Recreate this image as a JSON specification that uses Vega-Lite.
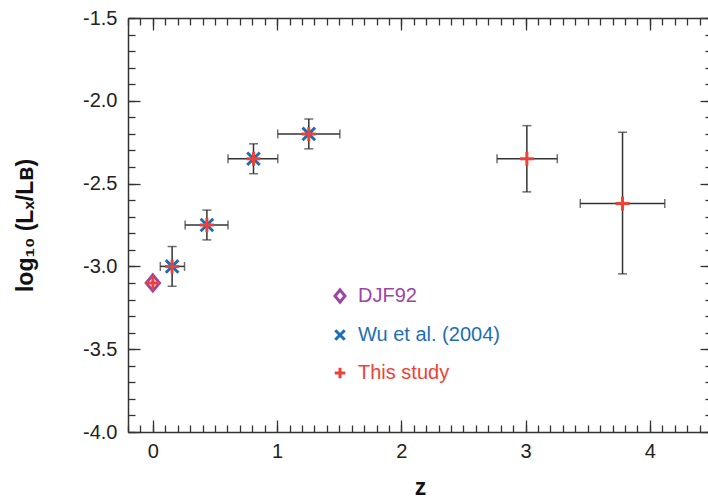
{
  "$schema": "https://vega.github.io/schema/vega-lite/v6.json",
  "width": 584,
  "height": 414,
  "autosize": "none",
  "padding": {"left": 128, "top": 18, "right": 0, "bottom": 72},
  "config": {
    "view": {"stroke": null},
    "locale": {"number": {"decimal": ".", "thousands": ",", "grouping": [3], "currency": ["$", ""], "minus": "-"}},
    "axis": {
      "labelFont": "Liberation Sans",
      "titleFont": "Liberation Sans",
      "labelFontSize": 20,
      "labelColor": "#222222",
      "domainColor": "#333333",
      "domainWidth": 1.5,
      "tickColor": "#333333",
      "tickWidth": 1.3,
      "grid": false,
      "titleColor": "#111111"
    },
    "legend": {"labelFont": "Liberation Sans"}
  },
  "datasets": {
    "err": [
      {"z": 0.155, "zlo": 0.06, "zhi": 0.255, "y": -3.0, "ylo": -3.12, "yhi": -2.88},
      {"z": 0.435, "zlo": 0.26, "zhi": 0.605, "y": -2.75, "ylo": -2.84, "yhi": -2.66},
      {"z": 0.81, "zlo": 0.605, "zhi": 1.005, "y": -2.35, "ylo": -2.44, "yhi": -2.26},
      {"z": 1.255, "zlo": 1.005, "zhi": 1.505, "y": -2.2, "ylo": -2.29, "yhi": -2.11},
      {"z": 3.01, "zlo": 2.77, "zhi": 3.255, "y": -2.35, "ylo": -2.55, "yhi": -2.15},
      {"z": 3.78, "zlo": 3.44, "zhi": 4.12, "y": -2.62, "ylo": -3.045, "yhi": -2.19}
    ],
    "pts": [
      {"series": "DJF92", "z": 0.0, "y": -3.1},
      {"series": "Wu et al. (2004)", "z": 0.155, "y": -3.0},
      {"series": "Wu et al. (2004)", "z": 0.435, "y": -2.75},
      {"series": "Wu et al. (2004)", "z": 0.81, "y": -2.35},
      {"series": "Wu et al. (2004)", "z": 1.255, "y": -2.2},
      {"series": "This study", "z": 0.0, "y": -3.1},
      {"series": "This study", "z": 0.155, "y": -3.0},
      {"series": "This study", "z": 0.435, "y": -2.75},
      {"series": "This study", "z": 0.81, "y": -2.35},
      {"series": "This study", "z": 1.255, "y": -2.2},
      {"series": "This study", "z": 3.01, "y": -2.35},
      {"series": "This study", "z": 3.78, "y": -2.62}
    ]
  },
  "resolve": {"axis": {"x": "independent", "y": "independent"}},
  "layer": [
    {
      "data": {"name": "err"},
      "mark": {"type": "rule", "color": "#333333", "strokeWidth": 1.5},
      "encoding": {
        "x": {"field": "zlo", "type": "quantitative", "scale": {"domain": [-0.2, 4.5], "nice": false, "zero": false},
          "axis": {"orient": "bottom", "values": [0, 1, 2, 3, 4], "format": "d", "tickSize": -12, "labelPadding": 21, "title": "z", "titleFontSize": 23, "titleFontWeight": "bold", "titlePadding": 15}},
        "x2": {"field": "zhi"},
        "y": {"field": "y", "type": "quantitative", "scale": {"domain": [-4, -1.5], "nice": false, "zero": false},
          "axis": {"orient": "left", "values": [-4, -3.5, -3, -2.5, -2, -1.5], "format": ".1f", "tickSize": -12, "labelPadding": 23, "title": "log₁₀ (Lₓ/Lʙ)", "titleFontSize": 23, "titleFontWeight": "bold", "titlePadding": 45}},
        "y2": {"field": "y"}
      }
    },
    {
      "data": {"name": "err"},
      "mark": {"type": "rule", "color": "#333333", "strokeWidth": 1.5},
      "encoding": {
        "x": {"field": "z", "type": "quantitative", "scale": {"domain": [-0.2, 4.5], "nice": false, "zero": false},
          "axis": {"orient": "bottom", "values": [-0.2, -0.1, 0, 0.1, 0.2, 0.3, 0.4, 0.5, 0.6, 0.7, 0.8, 0.9, 1, 1.1, 1.2, 1.3, 1.4, 1.5, 1.6, 1.7, 1.8, 1.9, 2, 2.1, 2.2, 2.3, 2.4, 2.5, 2.6, 2.7, 2.8, 2.9, 3, 3.1, 3.2, 3.3, 3.4, 3.5, 3.6, 3.7, 3.8, 3.9, 4, 4.1, 4.2, 4.3, 4.4, 4.5], "tickSize": -7, "labels": false, "domain": false, "title": null}},
        "y": {"field": "ylo", "type": "quantitative", "scale": {"domain": [-4, -1.5], "nice": false, "zero": false},
          "axis": {"orient": "left", "values": [-4, -3.9, -3.8, -3.7, -3.6, -3.5, -3.4, -3.3, -3.2, -3.1, -3, -2.9, -2.8, -2.7, -2.6, -2.5, -2.4, -2.3, -2.2, -2.1, -2, -1.9, -1.8, -1.7, -1.6, -1.5], "tickSize": -7, "labels": false, "domain": false, "title": null}},
        "y2": {"field": "yhi"}
      }
    },
    {
      "data": {"name": "err"},
      "mark": {"type": "tick", "orient": "vertical", "color": "#333333", "size": 9, "thickness": 1.5},
      "encoding": {
        "x": {"field": "zlo", "type": "quantitative", "scale": {"domain": [-0.2, 4.5], "nice": false, "zero": false},
          "axis": {"orient": "top", "values": [0, 1, 2, 3, 4], "tickSize": -12, "labels": false, "title": null}},
        "y": {"field": "y", "type": "quantitative", "scale": {"domain": [-4, -1.5], "nice": false, "zero": false},
          "axis": {"orient": "right", "values": [-4, -3.5, -3, -2.5, -2, -1.5], "tickSize": -12, "labels": false, "title": null}}
      }
    },
    {
      "data": {"name": "err"},
      "mark": {"type": "tick", "orient": "vertical", "color": "#333333", "size": 9, "thickness": 1.5},
      "encoding": {
        "x": {"field": "zhi", "type": "quantitative", "scale": {"domain": [-0.2, 4.5], "nice": false, "zero": false},
          "axis": {"orient": "top", "values": [-0.2, -0.1, 0, 0.1, 0.2, 0.3, 0.4, 0.5, 0.6, 0.7, 0.8, 0.9, 1, 1.1, 1.2, 1.3, 1.4, 1.5, 1.6, 1.7, 1.8, 1.9, 2, 2.1, 2.2, 2.3, 2.4, 2.5, 2.6, 2.7, 2.8, 2.9, 3, 3.1, 3.2, 3.3, 3.4, 3.5, 3.6, 3.7, 3.8, 3.9, 4, 4.1, 4.2, 4.3, 4.4, 4.5], "tickSize": -7, "labels": false, "domain": false, "title": null}},
        "y": {"field": "y", "type": "quantitative", "scale": {"domain": [-4, -1.5], "nice": false, "zero": false},
          "axis": {"orient": "right", "values": [-4, -3.9, -3.8, -3.7, -3.6, -3.5, -3.4, -3.3, -3.2, -3.1, -3, -2.9, -2.8, -2.7, -2.6, -2.5, -2.4, -2.3, -2.2, -2.1, -2, -1.9, -1.8, -1.7, -1.6, -1.5], "tickSize": -7, "labels": false, "domain": false, "title": null}}
      }
    },
    {
      "data": {"name": "err"},
      "mark": {"type": "tick", "orient": "horizontal", "color": "#333333", "size": 9, "thickness": 1.5},
      "encoding": {
        "x": {"field": "z", "type": "quantitative", "axis": null},
        "y": {"field": "ylo", "type": "quantitative", "axis": null}
      }
    },
    {
      "data": {"name": "err"},
      "mark": {"type": "tick", "orient": "horizontal", "color": "#333333", "size": 9, "thickness": 1.5},
      "encoding": {
        "x": {"field": "z", "type": "quantitative", "axis": null},
        "y": {"field": "yhi", "type": "quantitative", "axis": null}
      }
    },
    {
      "data": {"name": "pts"},
      "mark": {"type": "point", "filled": false, "strokeWidth": 3, "size": 196, "opacity": 1},
      "encoding": {
        "x": {"field": "z", "type": "quantitative", "axis": null},
        "y": {"field": "y", "type": "quantitative", "axis": null},
        "stroke": {"field": "series", "type": "nominal",
          "scale": {"domain": ["DJF92", "Wu et al. (2004)", "This study"], "range": ["#9b46a3", "#1c6fb5", "#ef4136"]},
          "legend": {"orient": "none", "legendX": 202, "legendY": 268, "title": null, "labelFontSize": 20, "symbolSize": 110, "symbolStrokeWidth": 3, "labelOffset": 8, "rowPadding": 15,
            "labelColor": {"expr": "scale('stroke', datum.value)"}}},
        "shape": {"field": "series", "type": "nominal",
          "scale": {"domain": ["DJF92", "Wu et al. (2004)", "This study"], "range": ["M0,-1.15L0.95,0L0,1.15L-0.95,0Z", "M-0.9,-0.9L0.9,0.9M-0.9,0.9L0.9,-0.9", "M-1,0L1,0M0,-1L0,1"]},
          "legend": {"orient": "none", "legendX": 202, "legendY": 268, "title": null, "labelFontSize": 20, "symbolSize": 110, "symbolStrokeWidth": 3, "labelOffset": 8, "rowPadding": 15,
            "labelColor": {"expr": "scale('stroke', datum.value)"}}}
      }
    }
  ]
}
